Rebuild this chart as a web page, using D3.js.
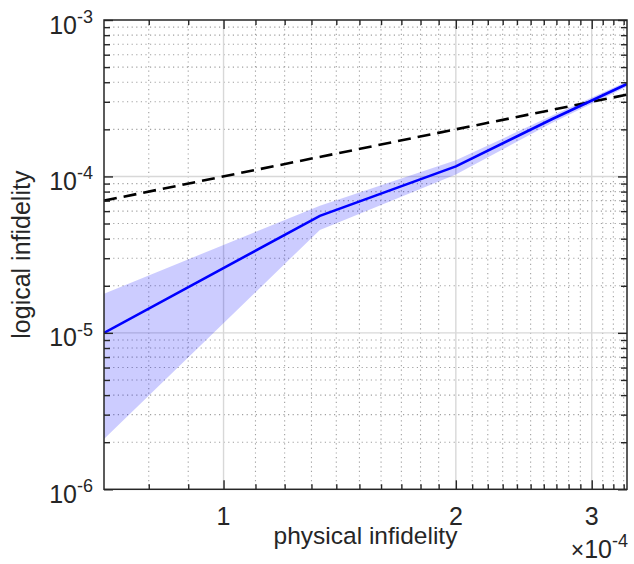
<!DOCTYPE html>
<html>
<head>
<meta charset="utf-8">
<script src="https://cdn.jsdelivr.net/npm/d3@7"></script>
<style>
  body { margin: 0; background: #fff; }
  svg text { font-family: "Liberation Sans", Arial, sans-serif; fill: #262626; }
</style>
</head>
<body>
<div id="chart"></div>
<script>
// data
var physical = [0.7e-4, 1.333e-4, 2.0e-4, 2.667e-4, 3.333e-4];
var logical  = [1.0e-5, 5.6e-5, 1.16e-4, 2.33e-4, 3.9e-4];
var bandHigh = [1.78e-5, 6.5e-5, 1.27e-4, 2.45e-4, 4.05e-4];
var bandLow  = [2.1e-6, 4.55e-5, 1.03e-4, 2.2e-4, 3.75e-4];
var refX = [0.7e-4, 3.333e-4];
var refY = [0.7e-4, 3.333e-4];

var xTicks = [1e-4, 2e-4, 3e-4];
var xTickLabels = ["1", "2", "3"];
var yTicks = [1e-6, 1e-5, 1e-4, 1e-3];
var yTickExps = ["-6", "-5", "-4", "-3"];

var W = 634, H = 564;
var margin = {top: 20, right: 7, bottom: 74.7, left: 104};
var width = W - margin.left - margin.right,
    height = H - margin.top - margin.bottom;

var svg = d3.select("#chart")
  .append("svg")
    .attr("width", W)
    .attr("height", H)
  .append("g")
    .attr("transform", "translate(" + margin.left + "," + margin.top + ")");

var x = d3.scaleLog()
  .domain([refX[0], refX[1]])
  .range([0, width]);
var y = d3.scaleLog()
  .domain([1e-6, 1e-3])
  .range([height, 0]);

// minor ticks: 0.1e-4 steps on x, 2..9 per decade on y
function k10(v) { return Math.round(v * 1e5); }
var xMinor = d3.range(8, 34).map(function(k) { return k * 1e-5; })
  .filter(function(v) { return k10(v) % 10 !== 0; });
var yMinor = [];
[1e-6, 1e-5, 1e-4].forEach(function(d) {
  for (var m = 2; m <= 9; m++) yMinor.push(m * d);
});

// grid
var grid = svg.append("g");
grid.selectAll(".xmg").data(xMinor).enter().append("line")
  .attr("x1", function(d) { return x(d); }).attr("x2", function(d) { return x(d); })
  .attr("y1", 0).attr("y2", height)
  .attr("stroke", "#a0a0a0").attr("stroke-width", 1.1).attr("stroke-dasharray", "1.2,3.4");
grid.selectAll(".ymg").data(yMinor).enter().append("line")
  .attr("y1", function(d) { return y(d); }).attr("y2", function(d) { return y(d); })
  .attr("x1", 0).attr("x2", width)
  .attr("stroke", "#a0a0a0").attr("stroke-width", 1.1).attr("stroke-dasharray", "1.2,3.4");
grid.selectAll(".xg").data(xTicks).enter().append("line")
  .attr("x1", function(d) { return x(d); }).attr("x2", function(d) { return x(d); })
  .attr("y1", 0).attr("y2", height)
  .attr("stroke", "#d8d8d8").attr("stroke-width", 1.4);
grid.selectAll(".yg").data(yTicks.slice(1, 3)).enter().append("line")
  .attr("y1", function(d) { return y(d); }).attr("y2", function(d) { return y(d); })
  .attr("x1", 0).attr("x2", width)
  .attr("stroke", "#d8d8d8").attr("stroke-width", 1.4);

svg.append("clipPath").attr("id", "clip")
  .append("rect").attr("width", width).attr("height", height);
var plot = svg.append("g").attr("clip-path", "url(#clip)");

// shaded band
var idx = d3.range(physical.length);
var area = d3.area()
  .x(function(i) { return x(physical[i]); })
  .y0(function(i) { return y(bandLow[i]); })
  .y1(function(i) { return y(bandHigh[i]); });
plot.append("path")
  .datum(idx)
  .attr("d", area)
  .attr("fill", "#0000ff")
  .attr("fill-opacity", 0.2);

// y = x reference
plot.append("path")
  .datum(d3.range(refX.length))
  .attr("d", d3.line().x(function(i) { return x(refX[i]); }).y(function(i) { return y(refY[i]); }))
  .attr("fill", "none")
  .attr("stroke", "#000")
  .attr("stroke-width", 2.6)
  .attr("stroke-dasharray", "13,7");

// mean line
plot.append("path")
  .datum(idx)
  .attr("d", d3.line().x(function(i) { return x(physical[i]); }).y(function(i) { return y(logical[i]); }))
  .attr("fill", "none")
  .attr("stroke", "#0000ff")
  .attr("stroke-width", 2.6);

// axes with inward ticks, box on
var axisColor = "#262626";
function styleAxis(g) {
  g.select(".domain").remove();
  g.selectAll(".tick line").attr("stroke", axisColor).attr("stroke-width", 1.4);
}
svg.append("g").attr("transform", "translate(0," + height + ")")
  .call(d3.axisBottom(x).tickValues(xMinor).tickSize(-5).tickFormat(""))
  .call(styleAxis);
svg.append("g").attr("transform", "translate(0," + height + ")")
  .call(d3.axisBottom(x).tickValues(xTicks).tickSize(-9).tickFormat(""))
  .call(styleAxis);
svg.append("g")
  .call(d3.axisTop(x).tickValues(xMinor).tickSize(-5).tickFormat(""))
  .call(styleAxis);
svg.append("g")
  .call(d3.axisTop(x).tickValues(xTicks).tickSize(-9).tickFormat(""))
  .call(styleAxis);
svg.append("g")
  .call(d3.axisLeft(y).tickValues(yMinor).tickSize(-6).tickFormat(""))
  .call(styleAxis);
svg.append("g")
  .call(d3.axisLeft(y).tickValues(yTicks).tickSize(-9).tickFormat(""))
  .call(styleAxis);
svg.append("g").attr("transform", "translate(" + width + ",0)")
  .call(d3.axisRight(y).tickValues(yMinor).tickSize(-6).tickFormat(""))
  .call(styleAxis);
svg.append("g").attr("transform", "translate(" + width + ",0)")
  .call(d3.axisRight(y).tickValues(yTicks).tickSize(-9).tickFormat(""))
  .call(styleAxis);

svg.append("rect")
  .attr("width", width).attr("height", height)
  .attr("fill", "none")
  .attr("stroke", axisColor)
  .attr("stroke-width", 1.5);

// tick labels
svg.selectAll(".xlab").data(xTicks).enter().append("text")
  .attr("x", function(d) { return x(d); })
  .attr("y", height + 35.7)
  .attr("text-anchor", "middle")
  .style("font-size", "25px")
  .text(function(d, i) { return xTickLabels[i]; });

var ylab = svg.selectAll(".ylab").data(yTicks).enter().append("text")
  .attr("x", -11)
  .attr("y", function(d) { return y(d) + 13.5; })
  .attr("text-anchor", "end")
  .style("font-size", "25px");
ylab.append("tspan").text("10");
ylab.append("tspan")
  .attr("dy", -10.5)
  .style("font-size", "18px")
  .text(function(d, i) { return yTickExps[i]; });

// exponent note
var ex = svg.append("text")
  .attr("x", width + 1)
  .attr("y", height + 68.5)
  .attr("text-anchor", "end")
  .style("font-size", "25px");
ex.append("tspan").style("font-size", "23px").text("\u00d7");
ex.append("tspan").text("10");
ex.append("tspan").attr("dy", -10.5).style("font-size", "18px").text("-4");

// axis titles
svg.append("text")
  .attr("x", width / 2)
  .attr("y", height + 55)
  .attr("text-anchor", "middle")
  .style("font-size", "24.5px")
  .text("physical infidelity");

svg.append("text")
  .attr("transform", "translate(" + (-74) + "," + (height / 2) + ") rotate(-90)")
  .attr("text-anchor", "middle")
  .style("font-size", "25px")
  .text("logical infidelity");
</script>
</body>
</html>
